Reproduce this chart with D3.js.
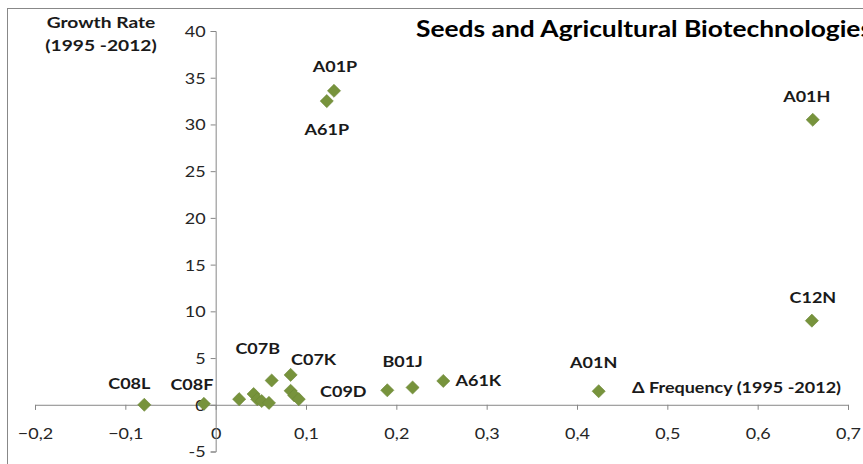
<!DOCTYPE html>
<html>
<head>
<meta charset="utf-8">
<script src="https://cdn.jsdelivr.net/npm/d3@7"></script>
<style>
  html, body { margin: 0; padding: 0; background: #fff; }
  svg { display: block; }
</style>
</head>
<body>
<svg id="chart" width="863" height="464"></svg>
<script>
// ---- data ----
const codes = ["C08L", "C08F", "", "", "", "", "", "C07B", "C07K", "", "", "", "C09D", "B01J", "A61K", "A01N", "A61P", "A01P", "C12N", "A01H"];
const deltaFrequency = [-0.079, -0.013, 0.026, 0.042, 0.046, 0.051, 0.059, 0.062, 0.083, 0.083, 0.087, 0.092, 0.190, 0.218, 0.252, 0.424, 0.123, 0.131, 0.660, 0.661];
const growthRate = [0.0, 0.1, 0.6, 1.15, 0.6, 0.4, 0.2, 2.6, 3.2, 1.5, 1.0, 0.6, 1.55, 1.85, 2.55, 1.45, 32.5, 33.6, 9.0, 30.5];
const xTicks = [-0.2, -0.1, 0, 0.1, 0.2, 0.3, 0.4, 0.5, 0.6, 0.7];
const yTicks = [-5, 0, 5, 10, 15, 20, 25, 30, 35, 40];
const chartTitle = "Seeds and Agricultural Biotechnologies";
const yTitle = ["Growth Rate", "(1995 -2012)"];
const xTitle = "\u0394 Frequency (1995 -2012)";

// ---- layout ----
const svg = d3.select("#chart");
const FONT = "Lato, 'Open Sans', sans-serif";
const SX = 1.2; // horizontal text stretch seen in the reference
const x = d3.scaleLinear().domain([-0.2, 0.7]).range([35, 848]);
const y = d3.scaleLinear().domain([-5, 40]).range([451.5, 31]);
const fmt = d3.format(".1f");
const comma = v => v === 0 ? "0" : fmt(v).replace(".", ",");

// helper: place stretched text at (px, py)
function put(sel, px, py) {
  sel.attr("x", 0).attr("y", 0)
     .attr("transform", (d, i, n) => {
       const X = typeof px === "function" ? px(d, i, n) : px;
       const Y = typeof py === "function" ? py(d, i, n) : py;
       return `translate(${X},${Y}) scale(${SX},1)`;
     });
  return sel;
}

// chart border
svg.append("rect").attr("x", 7.5).attr("y", 8.5).attr("width", 900).attr("height", 500)
  .attr("fill", "none").attr("stroke", "#888").attr("stroke-width", 1);

// x axis at y=0
const xAxis = d3.axisBottom(x).tickValues(xTicks).tickSize(5).tickFormat(comma);
const gx = svg.append("g").attr("transform", `translate(0,${y(0)})`).call(xAxis);
gx.select(".domain").attr("stroke", "#868686");
gx.selectAll(".tick line").attr("stroke", "#868686");
gx.selectAll(".tick text").attr("font-family", FONT).attr("font-size", 15).attr("fill", "#262626")
  .attr("dy", null).attr("dominant-baseline", "central").call(put, 0, 29);

// y axis at x=0
const yAxis = d3.axisLeft(y).tickValues(yTicks).tickSize(5).tickFormat(d => String(d));
const gy = svg.append("g").attr("transform", `translate(${x(0)},0)`).call(yAxis);
gy.select(".domain").attr("stroke", "#868686");
gy.selectAll(".tick line").attr("stroke", "#868686");
gy.selectAll(".tick text").attr("font-family", FONT).attr("font-size", 15).attr("fill", "#262626")
  .attr("dy", null).attr("dominant-baseline", "central").call(put, -10, 0);

// points
const pts = codes.map((c, i) => ({ code: c, x: deltaFrequency[i], y: growthRate[i] }));
const diamond = d3.symbol().type(d3.symbolDiamond2).size(110);
svg.append("g").selectAll("path").data(pts).join("path")
  .attr("d", diamond)
  .attr("transform", d => `translate(${x(d.x)},${y(d.y)})`)
  .attr("fill", "#77933c").attr("stroke", "#6b8636").attr("stroke-width", 0.6);

// label offsets (label centre relative to point)
const labelOffset = {
  C08L: [-15, -21], C08F: [-12, -19], C07B: [-14, -32], C07K: [23, -15],
  C09D: [-44, 1], B01J: [-10, -26], A61K: [35, 0], A01N: [-5, -29],
  A61P: [0, 28], A01P: [1, -24], C12N: [1, -23], A01H: [-6, -23]
};
svg.append("g").selectAll("text").data(pts.filter(d => d.code)).join("text")
  .attr("text-anchor", "middle").attr("dominant-baseline", "central")
  .attr("font-family", FONT).attr("font-weight", "bold").attr("font-size", 15).attr("fill", "#1a1a1a")
  .text(d => d.code)
  .call(put, d => x(d.x) + labelOffset[d.code][0], d => y(d.y) + labelOffset[d.code][1]);

// titles
svg.append("text")
  .attr("font-family", FONT).attr("font-weight", "bold").attr("font-size", 22).attr("fill", "#000")
  .text(chartTitle).call(put, 416, 37);
svg.append("g").selectAll("text").data(yTitle).join("text")
  .attr("text-anchor", "middle").attr("dominant-baseline", "central")
  .attr("font-family", FONT).attr("font-weight", "bold").attr("font-size", 16).attr("fill", "#1a1a1a")
  .text(d => d).call(put, 101, (d, i) => 22 + i * 23);
svg.append("text")
  .attr("text-anchor", "end").attr("dominant-baseline", "central")
  .attr("font-family", FONT).attr("font-weight", "bold").attr("font-size", 15).attr("fill", "#1a1a1a")
  .text(xTitle).call(put, 841, 388);
</script>
</body>
</html>
